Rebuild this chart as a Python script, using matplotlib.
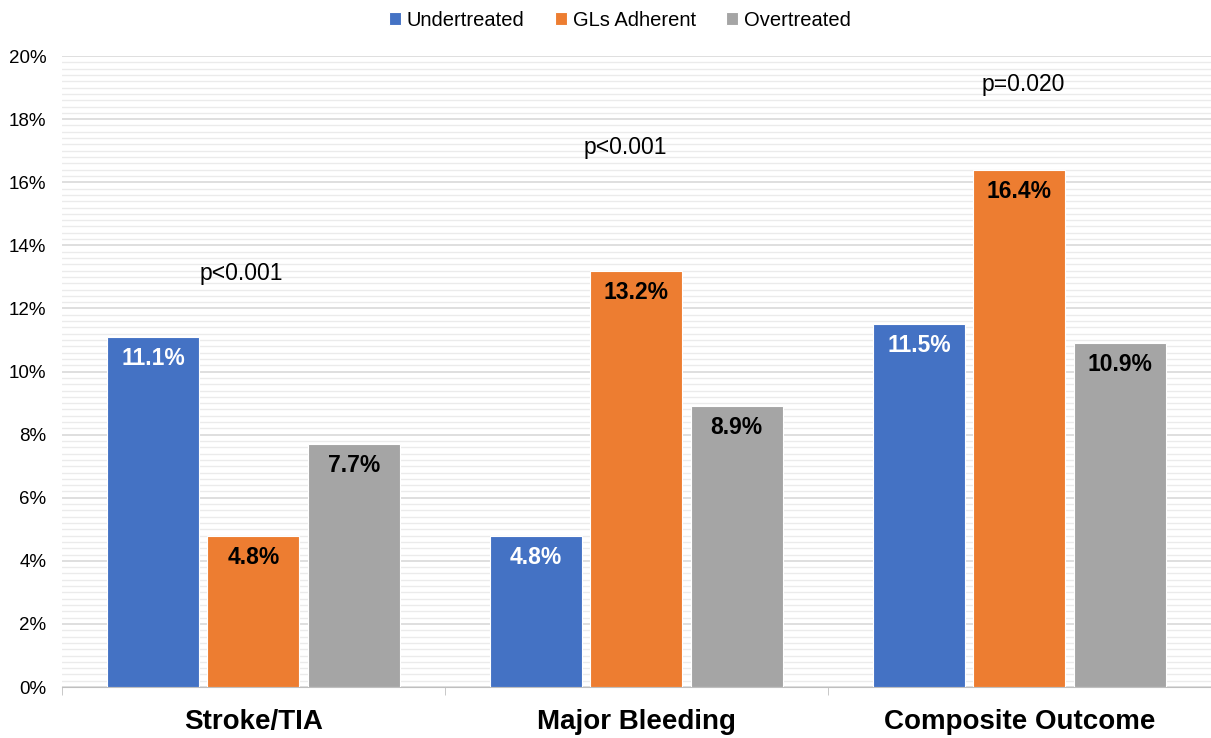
import numpy as np
import matplotlib.pyplot as plt
from matplotlib.ticker import MultipleLocator, FuncFormatter

plt.rcParams['font.family'] = ['Liberation Sans', 'DejaVu Sans']

categories = ['Stroke/TIA', 'Major Bleeding', 'Composite Outcome']
series = ['Undertreated', 'GLs Adherent', 'Overtreated']
undertreated = [11.1, 4.8, 11.5]
adherent = [4.8, 13.2, 16.4]
overtreated = [7.7, 8.9, 10.9]
p_values = ['p<0.001', 'p<0.001', 'p=0.020']
p_heights = [13.1, 17.1, 19.1]

colors = ['#4472C4', '#ED7D31', '#A5A5A5']
label_colors = ['white', 'black', 'black']

fig = plt.figure(figsize=(12.11, 7.38), dpi=100)
ax = fig.add_axes([0.051, 0.069, 0.949, 0.855])

x = np.arange(len(categories))
width = 0.24
offset = 0.262
data = [undertreated, adherent, overtreated]
for i, vals in enumerate(data):
    bars = ax.bar(x + (i - 1) * offset, vals, width, color=colors[i],
                  edgecolor='white', linewidth=0.8, label=series[i], zorder=3)
    for b, v in zip(bars, vals):
        ax.text(b.get_x() + b.get_width() / 2, v - 0.68, '%.1f%%' % v,
                ha='center', va='center', fontsize=16.5, fontweight='bold',
                color=label_colors[i], zorder=4)

for xi, p, h in zip(x, p_values, p_heights):
    ax.text(xi - 0.03 if xi < 2 else xi + 0.01, h, p, ha='center', va='center',
            fontsize=16.5, color='black')

ax.set_xlim(-0.5, 2.5)
ax.set_ylim(0, 20)
ax.yaxis.set_major_locator(MultipleLocator(2))
ax.yaxis.set_minor_locator(MultipleLocator(0.2))
ax.yaxis.set_major_formatter(FuncFormatter(lambda v, pos: '%d%%' % v))
ax.grid(axis='y', which='major', color='#D9D9D9', linewidth=1.2, zorder=0)
ax.grid(axis='y', which='minor', color='#EBEBEB', linewidth=1.0, zorder=0)
ax.tick_params(axis='y', which='both', length=0, labelsize=13.5, pad=11)

ax.set_xticks(x)
ax.set_xticklabels(categories, fontsize=20, fontweight='bold')
ax.set_xticks([-0.5, 0.5, 1.5, 2.5], minor=True)
ax.tick_params(axis='x', which='major', length=0, pad=16)
ax.tick_params(axis='x', which='minor', length=6, color='#BFBFBF')

for s in ['top', 'right', 'left']:
    ax.spines[s].set_visible(False)
ax.spines['bottom'].set_color('#BFBFBF')

fig.legend(*ax.get_legend_handles_labels(), loc='upper center',
           bbox_to_anchor=(0.512, 1.01), ncol=3, frameon=False,
           fontsize=14.5, handlelength=0.6, handleheight=0.6, handletextpad=0.3,
           columnspacing=1.5)

fig.savefig('out.png', dpi=100)
